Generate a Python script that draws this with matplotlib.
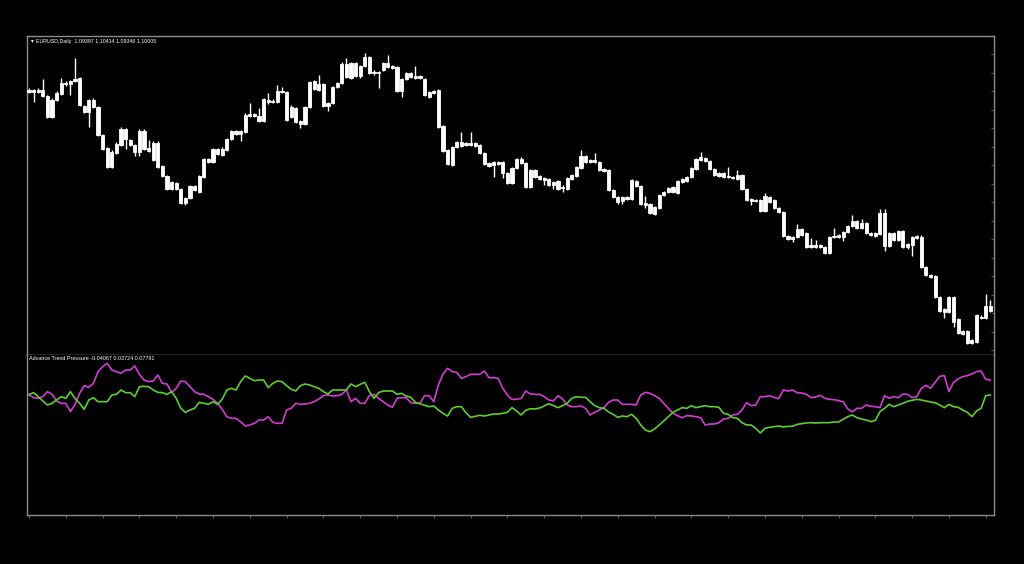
import matplotlib
matplotlib.use("Agg")
import matplotlib.pyplot as plt
import numpy as np

# ---------------- data ----------------
symbol_title = "EURUSD,Daily  1.09397 1.10414 1.09346 1.10005"
indicator_title = "Advance Trend Pressure -0.04067 0.03724 0.07791"

opens = [
 1.1816,1.1820,1.1816,1.1820,1.1808,1.1766,1.1800,1.1812,1.1834,1.1832,
 1.1838,1.1844,1.1788,1.1776,1.1800,1.1786,1.1730,1.1704,1.1666,1.1694,
 1.1710,1.1742,1.1720,1.1710,1.1696,1.1738,1.1704,1.1714,1.1714,1.1668,
 1.1648,1.1622,1.1634,1.1622,1.1594,1.1604,1.1628,1.1616,1.1646,1.1682,
 1.1676,1.1702,1.1690,1.1700,1.1722,1.1738,1.1732,1.1736,1.1768,1.1772,
 1.1768,1.1758,1.1800,1.1796,1.1796,1.1818,1.1816,1.1766,1.1784,1.1758,
 1.1752,1.1786,1.1838,1.1820,1.1832,1.1788,1.1794,1.1826,1.1834,1.1872,
 1.1844,1.1874,1.1848,1.1868,1.1886,1.1854,1.1856,1.1860,1.1874,1.1868,
 1.1866,1.1818,1.1842,1.1854,1.1844,1.1848,1.1842,1.1806,1.1814,1.1820,
 1.1748,1.1700,1.1670,1.1706,1.1716,1.1710,1.1714,1.1714,1.1710,1.1694,
 1.1674,1.1670,1.1676,1.1676,1.1654,1.1634,1.1664,1.1682,1.1674,1.1626,
 1.1660,1.1648,1.1644,1.1642,1.1630,1.1638,1.1624,1.1622,1.1642,1.1648,
 1.1664,1.1688,1.1676,1.1680,1.1676,1.1662,1.1660,1.1620,1.1606,1.1598,
 1.1606,1.1602,1.1638,1.1628,1.1594,1.1592,1.1572,1.1584,1.1610,1.1616,
 1.1616,1.1614,1.1636,1.1638,1.1646,1.1662,1.1680,1.1684,1.1678,1.1662,
 1.1654,1.1646,1.1648,1.1646,1.1642,1.1650,1.1622,1.1598,1.1600,1.1600,
 1.1578,1.1606,1.1600,1.1584,1.1576,1.1528,1.1522,1.1526,1.1542,1.1534,
 1.1506,1.1510,1.1506,1.1506,1.1494,1.1526,1.1526,1.1526,1.1536,1.1548,
 1.1558,1.1544,1.1554,1.1534,1.1528,1.1532,1.1574,1.1508,1.1534,1.1520,
 1.1538,1.1506,1.1510,1.1524,1.1526,1.1466,1.1450,1.1448,1.1406,1.1382,
 1.1376,1.1406,1.1362,1.1338,1.1338,1.1314,1.1316,1.1366,1.1364,1.1378]

highs = [
 1.1824,1.1822,1.1824,1.1842,1.1810,1.1804,1.1818,1.1844,1.1838,1.1840,
 1.1884,1.1846,1.1790,1.1802,1.1804,1.1788,1.1732,1.1706,1.1700,1.1716,
 1.1746,1.1744,1.1722,1.1712,1.1742,1.1742,1.1720,1.1718,1.1718,1.1670,
 1.1650,1.1638,1.1636,1.1624,1.1606,1.1630,1.1630,1.1650,1.1684,1.1684,
 1.1704,1.1704,1.1706,1.1724,1.1740,1.1740,1.1740,1.1774,1.1794,1.1774,
 1.1784,1.1804,1.1814,1.1802,1.1830,1.1826,1.1818,1.1790,1.1786,1.1760,
 1.1788,1.1838,1.1840,1.1850,1.1834,1.1796,1.1828,1.1836,1.1876,1.1884,
 1.1876,1.1876,1.1870,1.1894,1.1888,1.1860,1.1858,1.1876,1.1890,1.1870,
 1.1868,1.1844,1.1856,1.1856,1.1868,1.1850,1.1844,1.1818,1.1820,1.1822,
 1.1750,1.1702,1.1708,1.1718,1.1736,1.1716,1.1736,1.1716,1.1712,1.1696,
 1.1676,1.1678,1.1678,1.1678,1.1656,1.1666,1.1684,1.1686,1.1676,1.1662,
 1.1662,1.1650,1.1646,1.1644,1.1638,1.1640,1.1630,1.1646,1.1652,1.1668,
 1.1700,1.1690,1.1682,1.1694,1.1678,1.1664,1.1662,1.1622,1.1608,1.1608,
 1.1608,1.1642,1.1640,1.1630,1.1608,1.1594,1.1588,1.1612,1.1618,1.1626,
 1.1628,1.1640,1.1644,1.1648,1.1666,1.1684,1.1696,1.1686,1.1680,1.1664,
 1.1656,1.1656,1.1666,1.1648,1.1660,1.1652,1.1624,1.1604,1.1602,1.1602,
 1.1614,1.1608,1.1602,1.1586,1.1578,1.1530,1.1528,1.1552,1.1544,1.1536,
 1.1524,1.1520,1.1512,1.1508,1.1528,1.1544,1.1532,1.1538,1.1550,1.1570,
 1.1560,1.1562,1.1556,1.1536,1.1536,1.1582,1.1582,1.1536,1.1536,1.1540,
 1.1540,1.1514,1.1528,1.1530,1.1530,1.1468,1.1452,1.1450,1.1408,1.1384,
 1.1408,1.1408,1.1364,1.1340,1.1340,1.1322,1.1372,1.1370,1.1412,1.1400]

lows = [
 1.1814,1.1796,1.1814,1.1806,1.1764,1.1764,1.1798,1.1810,1.1828,1.1810,
 1.1836,1.1788,1.1774,1.1746,1.1784,1.1728,1.1700,1.1664,1.1664,1.1692,
 1.1708,1.1702,1.1708,1.1688,1.1688,1.1700,1.1696,1.1678,1.1664,1.1646,
 1.1620,1.1620,1.1620,1.1592,1.1590,1.1602,1.1618,1.1614,1.1644,1.1674,
 1.1674,1.1690,1.1688,1.1698,1.1720,1.1730,1.1718,1.1734,1.1766,1.1766,
 1.1756,1.1756,1.1792,1.1794,1.1794,1.1814,1.1758,1.1764,1.1754,1.1744,
 1.1750,1.1784,1.1820,1.1818,1.1786,1.1778,1.1792,1.1824,1.1832,1.1844,
 1.1842,1.1846,1.1844,1.1866,1.1852,1.1850,1.1824,1.1858,1.1864,1.1862,
 1.1816,1.1806,1.1840,1.1844,1.1842,1.1842,1.1808,1.1804,1.1812,1.1744,
 1.1696,1.1670,1.1668,1.1704,1.1706,1.1708,1.1708,1.1706,1.1692,1.1670,
 1.1666,1.1646,1.1670,1.1644,1.1632,1.1632,1.1662,1.1672,1.1624,1.1624,
 1.1644,1.1640,1.1630,1.1628,1.1622,1.1620,1.1616,1.1620,1.1640,1.1646,
 1.1662,1.1674,1.1674,1.1674,1.1658,1.1656,1.1618,1.1604,1.1592,1.1592,
 1.1600,1.1600,1.1626,1.1590,1.1584,1.1572,1.1570,1.1582,1.1608,1.1614,
 1.1614,1.1612,1.1634,1.1636,1.1644,1.1660,1.1678,1.1676,1.1660,1.1648,
 1.1646,1.1644,1.1644,1.1642,1.1640,1.1620,1.1598,1.1590,1.1596,1.1576,
 1.1576,1.1594,1.1582,1.1574,1.1526,1.1520,1.1516,1.1524,1.1528,1.1504,
 1.1504,1.1504,1.1504,1.1492,1.1492,1.1524,1.1524,1.1518,1.1534,1.1546,
 1.1542,1.1542,1.1532,1.1528,1.1526,1.1530,1.1498,1.1506,1.1518,1.1518,
 1.1504,1.1502,1.1488,1.1522,1.1464,1.1448,1.1444,1.1404,1.1376,1.1364,
 1.1374,1.1346,1.1332,1.1330,1.1312,1.1312,1.1314,1.1362,1.1362,1.1376]

closes = [
 1.1820,1.1816,1.1820,1.1808,1.1766,1.1800,1.1814,1.1834,1.1832,1.1838,
 1.1842,1.1790,1.1776,1.1800,1.1786,1.1730,1.1702,1.1666,1.1696,1.1712,
 1.1742,1.1722,1.1710,1.1696,1.1738,1.1702,1.1698,1.1680,1.1666,1.1648,
 1.1622,1.1636,1.1622,1.1594,1.1604,1.1628,1.1620,1.1648,1.1682,1.1676,
 1.1702,1.1692,1.1702,1.1722,1.1738,1.1732,1.1738,1.1770,1.1772,1.1768,
 1.1758,1.1802,1.1796,1.1798,1.1818,1.1816,1.1760,1.1786,1.1756,1.1752,
 1.1786,1.1836,1.1822,1.1832,1.1788,1.1794,1.1826,1.1834,1.1872,1.1846,
 1.1874,1.1848,1.1868,1.1886,1.1854,1.1856,1.1854,1.1874,1.1866,1.1864,
 1.1818,1.1842,1.1854,1.1846,1.1848,1.1844,1.1810,1.1816,1.1818,1.1746,
 1.1698,1.1672,1.1706,1.1716,1.1708,1.1714,1.1710,1.1708,1.1694,1.1672,
 1.1668,1.1676,1.1672,1.1654,1.1634,1.1664,1.1682,1.1674,1.1626,1.1660,
 1.1646,1.1642,1.1640,1.1630,1.1636,1.1622,1.1626,1.1644,1.1650,1.1666,
 1.1688,1.1676,1.1680,1.1676,1.1660,1.1658,1.1620,1.1606,1.1596,1.1606,
 1.1602,1.1640,1.1628,1.1592,1.1590,1.1574,1.1586,1.1610,1.1616,1.1624,
 1.1626,1.1638,1.1642,1.1646,1.1664,1.1682,1.1686,1.1678,1.1662,1.1650,
 1.1648,1.1654,1.1646,1.1644,1.1650,1.1622,1.1600,1.1602,1.1598,1.1578,
 1.1608,1.1596,1.1584,1.1576,1.1528,1.1522,1.1526,1.1542,1.1530,1.1506,
 1.1510,1.1506,1.1510,1.1494,1.1526,1.1528,1.1530,1.1536,1.1548,1.1558,
 1.1544,1.1554,1.1534,1.1530,1.1534,1.1574,1.1508,1.1534,1.1520,1.1538,
 1.1506,1.1512,1.1526,1.1528,1.1466,1.1450,1.1446,1.1406,1.1378,1.1376,
 1.1406,1.1356,1.1334,1.1332,1.1314,1.1320,1.1370,1.1364,1.1388,1.1388]

atp_magenta = [
 0.010,0.002,0.000,0.005,0.020,0.012,-0.008,-0.015,-0.015,-0.040,
 -0.018,0.015,0.038,0.033,0.045,0.080,0.095,0.105,0.085,0.080,
 0.075,0.085,0.085,0.097,0.072,0.055,0.050,0.052,0.070,0.045,
 0.043,0.018,0.030,0.052,0.050,0.035,0.020,0.013,0.012,0.005,
 -0.003,-0.015,-0.033,-0.055,-0.060,-0.060,-0.070,-0.083,-0.080,-0.075,
 -0.065,-0.065,-0.055,-0.072,-0.075,-0.075,-0.035,-0.030,-0.015,-0.018,
 -0.017,-0.015,-0.010,-0.002,0.008,0.010,0.007,0.008,0.012,0.025,
 -0.010,0.000,-0.015,
 -0.015,0.008,0.012,0.000,-0.010,-0.020,-0.027,0.000,0.002,0.002,
 -0.013,-0.015,-0.015,0.008,0.008,-0.010,0.040,0.073,0.090,0.080,
 0.078,0.060,0.065,0.072,0.072,0.072,0.082,0.062,0.062,0.060,
 0.030,0.010,-0.003,-0.003,0.000,0.022,0.013,0.012,0.012,0.005,
 -0.005,-0.008,0.008,-0.002,-0.020,-0.025,-0.025,-0.023,-0.030,-0.050,
 -0.042,-0.035,-0.028,-0.012,-0.005,-0.005,-0.018,-0.018,-0.018,-0.020,
 0.010,0.018,0.015,0.008,0.000,-0.015,-0.030,-0.045,-0.052,-0.058,
 -0.052,
 -0.053,-0.055,-0.058,-0.080,-0.077,-0.077,-0.073,-0.062,-0.060,-0.050,
 -0.048,-0.035,-0.013,-0.022,-0.020,0.005,0.005,0.008,0.003,-0.001,
 0.025,0.022,0.025,0.017,0.016,0.012,0.002,0.004,0.009,0.000,
 -0.003,-0.004,-0.007,-0.010,-0.032,-0.040,-0.030,-0.030,-0.020,-0.024,
 -0.025,-0.028,0.008,0.000,0.005,0.002,0.013,0.012,0.002,0.005,
 0.030,0.039,0.030,0.048,0.066,0.068,0.020,0.048,0.058,0.065,
 0.068,0.073,0.080,0.082,0.057,0.055]

atp_green = [
 0.012,0.017,0.005,-0.008,-0.020,-0.015,-0.005,0.005,0.000,0.020,
 0.000,-0.015,-0.033,-0.005,0.002,-0.010,-0.010,-0.010,0.010,0.012,
 0.025,0.017,0.017,0.005,0.035,0.036,0.035,0.025,0.018,0.017,
 0.012,0.020,0.000,-0.030,-0.042,-0.035,-0.030,-0.012,-0.015,-0.018,
 -0.010,-0.018,-0.003,0.025,0.030,0.025,0.050,0.067,0.060,0.053,
 0.055,0.055,0.032,0.045,0.052,0.050,0.038,0.027,0.022,0.038,
 0.043,0.040,0.035,0.030,0.020,0.013,0.025,0.025,0.025,0.025,
 0.043,0.035,0.042,
 0.048,0.020,0.000,0.017,0.022,0.022,0.022,0.012,0.015,0.007,
 0.003,-0.012,-0.016,-0.021,-0.025,-0.023,-0.035,-0.045,-0.053,-0.030,
 -0.025,-0.025,-0.043,-0.057,-0.054,-0.051,-0.053,-0.050,-0.047,-0.047,
 -0.045,-0.042,-0.028,-0.038,-0.050,-0.036,-0.031,-0.032,-0.029,-0.023,
 -0.016,-0.022,-0.028,-0.022,-0.015,0.000,0.005,0.003,0.003,-0.010,
 -0.022,-0.028,-0.030,-0.041,-0.048,-0.057,-0.053,-0.055,-0.048,-0.060,
 -0.080,-0.095,-0.100,-0.092,-0.080,-0.068,-0.055,-0.042,-0.035,-0.028,
 -0.030,
 -0.022,-0.028,-0.025,-0.022,-0.025,-0.025,-0.027,-0.045,-0.048,-0.058,
 -0.060,-0.073,-0.080,-0.080,-0.090,-0.104,-0.090,-0.087,-0.085,-0.083,
 -0.086,-0.084,-0.084,-0.078,-0.076,-0.074,-0.073,-0.074,-0.073,-0.073,
 -0.073,-0.071,-0.071,-0.063,-0.055,-0.050,-0.058,-0.062,-0.065,-0.070,
 -0.066,-0.040,-0.030,-0.018,-0.025,-0.020,-0.015,-0.009,-0.006,-0.003,
 -0.005,-0.008,-0.011,-0.013,-0.020,-0.028,-0.018,-0.025,-0.027,-0.035,
 -0.042,-0.055,-0.038,-0.030,0.008,0.010]

# ---------------- figure ----------------
W, H = 1024, 564
fig = plt.figure(figsize=(W / 100, H / 100), dpi=100, facecolor="black")

left = 27 / W
width = 967 / W
ax = fig.add_axes([left, 1 - 355 / H, width, 319 / H], facecolor="black")
ax2 = fig.add_axes([left, 1 - 515 / H, width, 160 / H], facecolor="black", sharex=ax)

n = len(closes)
x = np.arange(1, n + 1)
o = np.array(opens); c = np.array(closes)
h = np.array(highs); l = np.array(lows)

# wicks
ax.vlines(x, l, h, color="white", linewidth=1.0, zorder=2)
# bodies
bottom = np.minimum(o, c)
height = np.abs(c - o)
ax.bar(x, height, bottom=bottom, width=0.68, color="white",
       edgecolor="white", linewidth=0.6, zorder=3)

ax.set_xlim(0.56, 210.8)
ax.set_ylim(1.1290, 1.1928)

# indicator
ax2.plot(x, atp_magenta, color="#d23cd2", linewidth=1.2, zorder=3)
ax2.plot(x, atp_green, color="#5ccf2a", linewidth=1.2, zorder=3)
ax2.set_ylim(-0.350, 0.130)

frame_col = "#8c8c8c"
for a in (ax, ax2):
    for s in a.spines.values():
        s.set_color(frame_col)
        s.set_linewidth(1.0)
    a.tick_params(colors="#5a5a5a", labelcolor="black", length=2, width=0.8)

ax.tick_params(axis="x", bottom=False, labelbottom=False)
ax.yaxis.tick_right()
ax.set_yticks(np.arange(1.1300, 1.1930, 0.0037))
ax.tick_params(axis="y", labelright=False, direction="in")
ax.spines["bottom"].set_color("#b4b4b4")
ax.spines["bottom"].set_zorder(5)

ax2.yaxis.tick_right()
ax2.set_yticks([])
ax2.set_xticks(np.arange(1, n + 1, 8))
ax2.tick_params(axis="x", labelbottom=False, direction="out", length=2)
ax2.spines["top"].set_visible(False)

# header texts
fig.text(31 / W, 1 - 41 / H, "\u25be", color="white", fontsize=4.0,
         va="center", ha="left", family="DejaVu Sans")
fig.text(35.5 / W, 1 - 41 / H, symbol_title, color="white", fontsize=3.8,
         va="center", ha="left", family="Liberation Sans")
fig.text(29 / W, 1 - 359 / H, indicator_title, color="white", fontsize=3.85,
         va="center", ha="left", family="Liberation Sans")

fig.savefig("out.png", dpi=100, facecolor="black")
